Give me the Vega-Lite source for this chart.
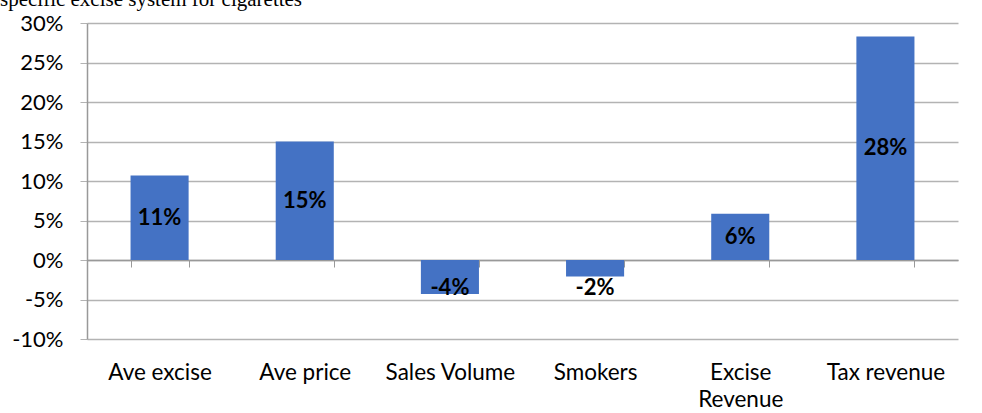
{
  "$schema": "https://vega.github.io/schema/vega-lite/v6.json",
  "autosize": "none",
  "width": 871,
  "height": 316,
  "padding": {"left": 87, "top": 23, "right": 24, "bottom": 74},
  "background": "white",
  "title": {
    "text": "specific excise system for cigarettes",
    "anchor": "start",
    "frame": "group",
    "orient": "top",
    "baseline": "alphabetic",
    "dx": -87,
    "dy": 22,
    "offset": 7,
    "font": "Liberation Serif",
    "fontSize": 21,
    "fontWeight": "normal",
    "color": "black"
  },
  "data": {
    "values": [
      {"category": "Ave excise", "value": 0.107, "label": "11%"},
      {"category": "Ave price", "value": 0.15, "label": "15%"},
      {"category": "Sales Volume", "value": -0.043, "label": "-4%"},
      {"category": "Smokers", "value": -0.021, "label": "-2%"},
      {"category": "Excise Revenue", "value": 0.0585, "label": "6%"},
      {"category": "Tax revenue", "value": 0.283, "label": "28%"}
    ]
  },
  "encoding": {
    "x": {
      "field": "category",
      "type": "nominal",
      "sort": null,
      "scale": {"paddingInner": 0.6, "paddingOuter": 0.3},
      "axis": {
        "title": null,
        "labelAngle": 0,
        "offset": -79,
        "domain": true,
        "domainColor": "#999999",
        "domainWidth": 1.5,
        "ticks": true,
        "tickBand": "extent",
        "tickSize": 7,
        "tickColor": "#999999",
        "labelPadding": 94,
        "labelFont": "Lato",
        "labelFontSize": 22.5,
        "labelColor": "black",
        "labelBaseline": "top",
        "labelLineHeight": 27,
        "labelExpr": "datum.value == 'Excise Revenue' ? ['Excise', 'Revenue'] : datum.value",
        "grid": false
      }
    }
  },
  "layer": [
    {
      "mark": {"type": "bar", "color": "#4472C4"},
      "encoding": {
        "y": {
          "field": "value",
          "type": "quantitative",
          "scale": {"domain": [-0.1, 0.3], "nice": false, "zero": false},
          "axis": {
            "title": null,
            "format": ".0%",
            "labelExpr": "replace(datum.label, '\u2212', '-')",
            "values": [-0.1, -0.05, 0, 0.05, 0.1, 0.15, 0.2, 0.25, 0.3],
            "labelOverlap": false,
            "grid": true,
            "gridColor": "#b3b3b3",
            "gridWidth": 1.3,
            "domain": true,
            "domainColor": "#999999",
            "domainWidth": 1.5,
            "ticks": true,
            "tickSize": 7,
            "tickColor": "#b3b3b3",
            "labelPadding": 17,
            "labelFont": "Lato",
            "labelFontSize": 22,
            "labelColor": "black"
          }
        }
      }
    },
    {
      "transform": [{"filter": "datum.value > 0"}, {"calculate": "datum.value / 2", "as": "mid"}],
      "mark": {"type": "text", "font": "Lato", "fontSize": 22, "fontWeight": "bold", "color": "black", "baseline": "middle"},
      "encoding": {
        "y": {
          "field": "mid",
          "type": "quantitative",
          "axis": {
            "title": null,
            "format": ".0%",
            "labelExpr": "replace(datum.label, '\u2212', '-')",
            "values": [-0.1, -0.05, 0, 0.05, 0.1, 0.15, 0.2, 0.25, 0.3],
            "labelOverlap": false,
            "grid": true,
            "gridColor": "#b3b3b3",
            "gridWidth": 1.3,
            "domain": true,
            "domainColor": "#999999",
            "domainWidth": 1.5,
            "ticks": true,
            "tickSize": 7,
            "tickColor": "#b3b3b3",
            "labelPadding": 17,
            "labelFont": "Lato",
            "labelFontSize": 22,
            "labelColor": "black"
          }
        },
        "text": {"field": "label"}
      }
    },
    {
      "transform": [{"filter": "datum.value < 0"}],
      "mark": {"type": "text", "font": "Lato", "fontSize": 22, "fontWeight": "bold", "color": "black", "baseline": "middle"},
      "encoding": {
        "y": {
          "datum": -0.0355,
          "type": "quantitative",
          "axis": {
            "title": null,
            "format": ".0%",
            "labelExpr": "replace(datum.label, '\u2212', '-')",
            "values": [-0.1, -0.05, 0, 0.05, 0.1, 0.15, 0.2, 0.25, 0.3],
            "labelOverlap": false,
            "grid": true,
            "gridColor": "#b3b3b3",
            "gridWidth": 1.3,
            "domain": true,
            "domainColor": "#999999",
            "domainWidth": 1.5,
            "ticks": true,
            "tickSize": 7,
            "tickColor": "#b3b3b3",
            "labelPadding": 17,
            "labelFont": "Lato",
            "labelFontSize": 22,
            "labelColor": "black"
          }
        },
        "text": {"field": "label"}
      }
    }
  ],
  "config": {"view": {"stroke": null}}
}
